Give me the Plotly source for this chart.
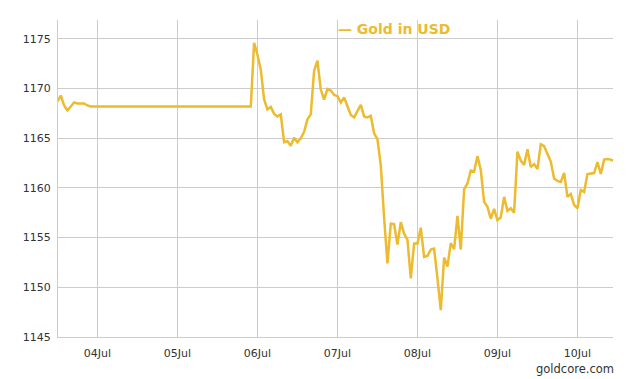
import plotly.graph_objects as go
import pandas as pd

# Friday session (hourly) 03 Jul 2015
fri_times = pd.date_range("2015-07-03 12:00", "2015-07-03 22:00", freq="h")
fri_values = [1168.7, 1169.3, 1168.3, 1167.8, 1168.2, 1168.6, 1168.5, 1168.5,
              1168.5, 1168.3, 1168.2]

# From Sunday evening 05 Jul to 10 Jul (hourly)
week_times = pd.date_range("2015-07-05 22:00", "2015-07-10 11:00", freq="h")
sun_values = [1168.2, 1174.6]
jul06_values = [1173.4, 1171.9, 1168.9, 1167.9, 1168.15, 1167.45, 1167.2, 1167.4,
                1164.6, 1164.7, 1164.25, 1165.05, 1164.6, 1165.0, 1165.65, 1166.9,
                1167.4, 1171.8, 1172.8, 1169.9, 1168.9, 1169.95, 1169.8, 1169.35]
jul07_values = [1169.25, 1168.6, 1169.1, 1168.2, 1167.35, 1167.1, 1167.75, 1168.35,
                1167.2, 1167.1, 1167.25, 1165.5, 1164.9, 1162.3, 1157.0, 1152.4,
                1156.4, 1156.35, 1154.3, 1156.55, 1155.4, 1154.8, 1150.9, 1154.4]
jul08_values = [1154.4, 1156.0, 1153.05, 1153.15, 1153.8, 1153.9, 1150.9, 1147.7,
                1153.0, 1152.1, 1154.45, 1153.85, 1157.2, 1153.8, 1159.85, 1160.45,
                1161.75, 1161.65, 1163.2, 1161.8, 1158.6, 1158.1, 1156.9, 1157.9]
jul09_values = [1156.75, 1157.05, 1159.1, 1157.7, 1157.95, 1157.5, 1163.65, 1162.75,
                1162.3, 1163.9, 1162.1, 1162.4, 1161.9, 1164.4, 1164.2, 1163.4,
                1162.65, 1160.95, 1160.7, 1160.6, 1161.5, 1159.1, 1159.4, 1158.3]
jul10_values = [1157.95, 1159.8, 1159.6, 1161.4, 1161.45, 1161.5, 1162.6, 1161.4,
                1162.85, 1162.9, 1162.85, 1162.7]

y_ticks = [1145, 1150, 1155, 1160, 1165, 1170, 1175]
x_ticks = ["2015-07-04", "2015-07-05", "2015-07-06", "2015-07-07",
           "2015-07-08", "2015-07-09", "2015-07-10"]

times = list(fri_times) + list(week_times)
values = (fri_values + sun_values + jul06_values + jul07_values + jul08_values
          + jul09_values + jul10_values)

GOLD = "#EDBB2F"
GRID = "#CCCCCC"
FONT = "DejaVu Sans"

fig = go.Figure()
fig.add_trace(go.Scatter(
    x=times, y=values, mode="lines", name="Gold in USD",
    line=dict(color=GOLD, width=2.5), showlegend=False,
))

fig.update_layout(
    width=630, height=379,
    margin=dict(l=58, r=17, t=20, b=42),
    paper_bgcolor="white", plot_bgcolor="white",
    font=dict(family=FONT, size=11, color="#333333"),
    xaxis=dict(
        range=["2015-07-03 12:10", "2015-07-10 10:40"],
        tickvals=x_ticks, tickformat="%d%b",
        showgrid=True, gridcolor=GRID, gridwidth=1,
        showline=True, linecolor=GRID, linewidth=1,
        ticks="", ticklabelstandoff=6, zeroline=False,
        tickfont=dict(family=FONT, size=11, color="#333333"),
    ),
    yaxis=dict(
        range=[1145, 1176.9],
        tickvals=y_ticks,
        showgrid=True, gridcolor=GRID, gridwidth=1,
        showline=True, linecolor=GRID, linewidth=1,
        ticks="", ticklabelstandoff=4, zeroline=False,
        tickfont=dict(family=FONT, size=11, color="#333333"),
    ),
    annotations=[
        dict(text="<b>— Gold in USD</b>", xref="paper", yref="paper",
             x=(336 - 58) / 555, y=(379 - 29 - 42) / 317, xanchor="left", yanchor="middle",
             showarrow=False, font=dict(family=FONT, size=14, color=GOLD)),
        dict(text="goldcore.com", xref="paper", yref="paper",
             x=1.0, xshift=3, y=(379 - 369 - 42) / 317, xanchor="right", yanchor="middle",
             showarrow=False, font=dict(family=FONT, size=11.5, color="#333333")),
    ],
)

fig.write_html("out.html")
